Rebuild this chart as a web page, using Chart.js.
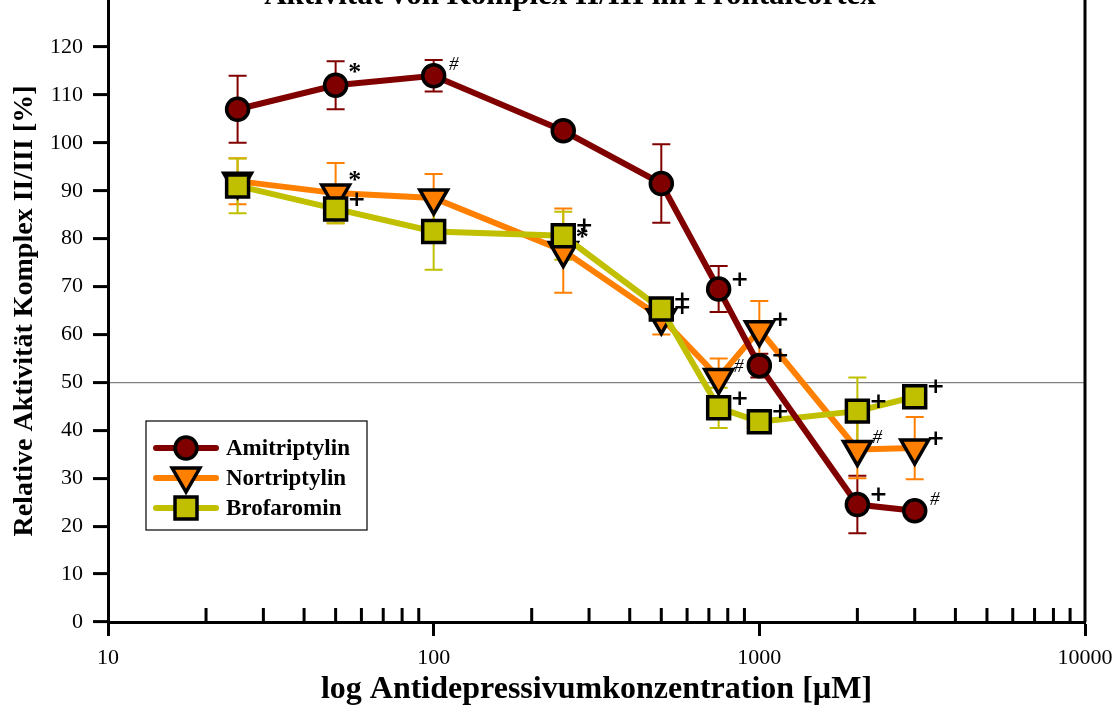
<!DOCTYPE html>
<html>
<head>
<meta charset="utf-8">
<script src="https://cdn.jsdelivr.net/npm/chart.js@4/dist/chart.umd.min.js"></script>
<style>
  body { margin: 0; background: #fff; }
  #wrap { width: 1120px; height: 709px; position: relative; }
</style>
</head>
<body>
<div id="wrap"><canvas id="aktivitaetChart"></canvas></div>
<script>
// Daten
const konzentrationen = [25, 50, 100, 250, 500, 750, 1000, 2000, 3000];
const amitriptylin = [107, 112, 114, 102.5, 91.5, 69.5, 53.5, 24.5, 23.2];
const amitriptylinFehler = [7, 5, 3.3, 1, 8.2, 4.8, 2.5, 6, 1.5];
const nortriptylin = [92, 89.5, 88.5, 77.5, 63.5, 51, 61, 36, 36.3];
const nortriptylinFehler = [4.8, 6.3, 5, 8.8, 3.5, 4, 6, 6, 6.5];
const brofaromin = [91, 86.2, 81.5, 80.6, 65.3, 44.7, 41.8, 44, 47];
const brofarominFehler = [5.7, 3, 8, 5, 2, 4.2, 1, 7, 1];
const xTicks = [10, 100, 1000, 10000];
const yTicks = [0, 10, 20, 30, 40, 50, 60, 70, 80, 90, 100, 110, 120];

// Signifikanzzeichen: [Datensatz, Punkt, Zeichen]
const signifikanz = [
  [0, 1, '*'], [0, 2, '#'], [0, 5, '+'], [0, 6, '+'], [0, 7, '+'], [0, 8, '#'],
  [1, 1, '*'], [1, 3, '*'], [1, 4, '+'], [1, 5, '#'], [1, 6, '+'], [1, 7, '#'], [1, 8, '+'],
  [2, 1, '+'], [2, 3, '+'], [2, 4, '+'], [2, 5, '+'], [2, 6, '+'], [2, 7, '+'], [2, 8, '+']
];

const fehler = [amitriptylinFehler, nortriptylinFehler, brofarominFehler];
const serif = "'Liberation Serif', 'Times New Roman', serif";

function punkte(werte) {
  return konzentrationen.map((k, i) => ({ x: k, y: werte[i] }));
}

// Fehlerbalken
const fehlerbalken = {
  id: 'fehlerbalken',
  beforeDatasetsDraw(chart) {
    const ctx = chart.ctx;
    const xs = chart.scales.x, ys = chart.scales.y;
    ctx.save();
    chart.data.datasets.forEach((ds, i) => {
      ctx.strokeStyle = ds.borderColor;
      ctx.lineWidth = 2;
      ds.data.forEach((p, j) => {
        const e = fehler[i][j];
        const x = xs.getPixelForValue(p.x);
        const y1 = ys.getPixelForValue(p.y + e);
        const y2 = ys.getPixelForValue(p.y - e);
        ctx.beginPath();
        ctx.moveTo(x, y1); ctx.lineTo(x, y2);
        ctx.moveTo(x - 9, y1); ctx.lineTo(x + 9, y1);
        ctx.moveTo(x - 9, y2); ctx.lineTo(x + 9, y2);
        ctx.stroke();
      });
    });
    ctx.restore();
  }
};

function marker(ctx, stil, x, y, farbe) {
  ctx.save();
  ctx.fillStyle = farbe;
  ctx.strokeStyle = '#000';
  ctx.lineWidth = 3.5;
  ctx.beginPath();
  if (stil === 'circle') {
    ctx.arc(x, y, 11, 0, Math.PI * 2);
  } else if (stil === 'triangle') {
    const r = 16;
    ctx.moveTo(x, y + r);
    ctx.lineTo(x - r * 0.866, y - r / 2);
    ctx.lineTo(x + r * 0.866, y - r / 2);
    ctx.closePath();
  } else {
    ctx.rect(x - 11, y - 11, 22, 22);
  }
  ctx.fill();
  ctx.stroke();
  ctx.restore();
}

// Achsen, Titel, Legende, Zeichen
const extras = {
  id: 'extras',
  beforeDatasetsDraw(chart) {
    const ctx = chart.ctx;
    const a = chart.chartArea;
    const xs = chart.scales.x;
    ctx.save();
    ctx.strokeStyle = '#000';
    ctx.lineWidth = 3;
    // rechter Rahmen
    ctx.beginPath();
    ctx.moveTo(a.right, 0);
    ctx.lineTo(a.right, a.bottom);
    ctx.stroke();
    // kleine Striche nach oben
    ctx.beginPath();
    for (let d = 10; d < 10000; d *= 10) {
      for (let m = 2; m <= 9; m++) {
        const x = xs.getPixelForValue(d * m);
        ctx.moveTo(x, a.bottom);
        ctx.lineTo(x, a.bottom - 14);
      }
    }
    ctx.stroke();
    ctx.restore();
  },
  afterDatasetsDraw(chart) {
    const ctx = chart.ctx;
    ctx.save();
    ctx.fillStyle = '#000';
    ctx.textAlign = 'center';
    ctx.textBaseline = 'middle';
    signifikanz.forEach(([d, j, z]) => {
      const el = chart.getDatasetMeta(d).data[j];
      if (z === '+') {
        ctx.font = 'bold 22px DejaVu Sans';
        ctx.fillText(z, el.x + 21, el.y - 9);
      } else if (z === '*') {
        ctx.font = 'bold 26px ' + serif;
        ctx.fillText(z, el.x + 19, el.y - 12);
      } else {
        ctx.font = 'italic 19px ' + serif;
        ctx.fillText(z, el.x + 20, el.y - 11);
      }
    });
    ctx.restore();
  },
  afterDraw(chart) {
    const ctx = chart.ctx;
    const a = chart.chartArea;
    ctx.save();
    // Titel (oben abgeschnitten)
    ctx.fillStyle = '#000';
    ctx.font = 'bold 31px ' + serif;
    ctx.textAlign = 'center';
    ctx.textBaseline = 'alphabetic';
    ctx.fillText('Aktivität von Komplex II/III im Frontalcortex', 570, 4);

    // Legende
    const lx = a.left + 38, ly = a.bottom - 201;
    ctx.fillStyle = '#fff';
    ctx.fillRect(lx, ly, 221, 109);
    ctx.strokeStyle = '#000';
    ctx.lineWidth = 1.2;
    ctx.strokeRect(lx, ly, 221, 109);
    const stile = ['circle', 'triangle', 'rect'];
    chart.data.datasets.forEach((ds, i) => {
      const y = ly + 27 + i * 30;
      ctx.strokeStyle = ds.borderColor;
      ctx.lineWidth = 6;
      ctx.lineCap = 'round';
      ctx.beginPath();
      ctx.moveTo(lx + 10, y);
      ctx.lineTo(lx + 70, y);
      ctx.stroke();
      marker(ctx, stile[i], lx + 40, i === 1 ? y - 2 : y, ds.pointBackgroundColor);
      ctx.fillStyle = '#000';
      ctx.font = 'bold 23px ' + serif;
      ctx.textAlign = 'left';
      ctx.textBaseline = 'middle';
      ctx.fillText(ds.label, lx + 80, y + 1);
    });
    ctx.restore();
  }
};

const ctx = document.getElementById('aktivitaetChart').getContext('2d');
const chart = new Chart(ctx, {
  type: 'line',
  data: {
    datasets: [{
      label: 'Amitriptylin',
      data: punkte(amitriptylin),
      borderColor: '#800000',
      backgroundColor: '#800000',
      pointBackgroundColor: '#800000',
      pointBorderColor: '#000',
      pointBorderWidth: 3.5,
      pointStyle: 'circle',
      pointRadius: 11,
      order: 0
    }, {
      label: 'Nortriptylin',
      data: punkte(nortriptylin),
      borderColor: '#ff8000',
      backgroundColor: '#ff8000',
      pointBackgroundColor: '#ff8000',
      pointBorderColor: '#000',
      pointBorderWidth: 3.5,
      pointStyle: 'triangle',
      pointRotation: 180,
      pointRadius: 16,
      order: 2
    }, {
      label: 'Brofaromin',
      data: punkte(brofaromin),
      borderColor: '#c0c000',
      backgroundColor: '#c0c000',
      pointBackgroundColor: '#c0c000',
      pointBorderColor: '#000',
      pointBorderWidth: 3.5,
      pointStyle: 'rect',
      pointRadius: 15.5,
      order: 1
    }]
  },
  options: {
    responsive: true,
    maintainAspectRatio: false,
    animation: false,
    clip: false,
    layout: { autoPadding: false, padding: { left: 0, right: 35, top: 0, bottom: 0 } },
    elements: {
      line: { borderWidth: 6, tension: 0 }
    },
    plugins: {
      legend: { display: false },
      tooltip: { enabled: false }
    },
    scales: {
      x: {
        type: 'logarithmic',
        min: 10,
        max: 10000,
        afterBuildTicks(scale) {
          scale.ticks = xTicks.map(v => ({ value: v, major: true }));
        },
        afterFit(scale) {
          scale.height = 87;
          scale.paddingLeft = 0;
          scale.paddingRight = 0;
        },
        border: { color: '#000', width: 3 },
        grid: {
          drawOnChartArea: false,
          drawTicks: true,
          tickLength: 14,
          tickColor: '#000',
          tickWidth: 3
        },
        ticks: {
          color: '#000',
          padding: 9,
          maxRotation: 0,
          autoSkip: false,
          font: { family: serif, size: 22 },
          callback: v => String(v)
        },
        title: {
          display: true,
          text: 'log Antidepressivumkonzentration [µM]',
          color: '#000',
          font: { family: serif, size: 32, weight: 'bold' },
          padding: { top: 0, bottom: 0 }
        }
      },
      y: {
        min: 0,
        max: 129.8,
        afterBuildTicks(scale) {
          scale.ticks = yTicks.map(v => ({ value: v }));
        },
        afterFit(scale) {
          scale.width = 108;
          scale.paddingTop = 0;
          scale.paddingBottom = 0;
        },
        border: { color: '#000', width: 3 },
        grid: {
          drawOnChartArea: true,
          color: c => (c.tick && c.tick.value === 50 ? '#808080' : 'rgba(0,0,0,0)'),
          lineWidth: 1.2,
          tickLength: 15,
          tickColor: '#000',
          tickWidth: 3
        },
        ticks: {
          color: '#000',
          padding: 10,
          font: { family: serif, size: 22 }
        },
        title: {
          display: true,
          text: 'Relative Aktivität Komplex II/III [%]',
          color: '#000',
          font: { family: serif, size: 28, weight: 'bold' },
          padding: { top: 8, bottom: 0 }
        }
      }
    }
  },
  plugins: [fehlerbalken, extras]
});
</script>
</body>
</html>
